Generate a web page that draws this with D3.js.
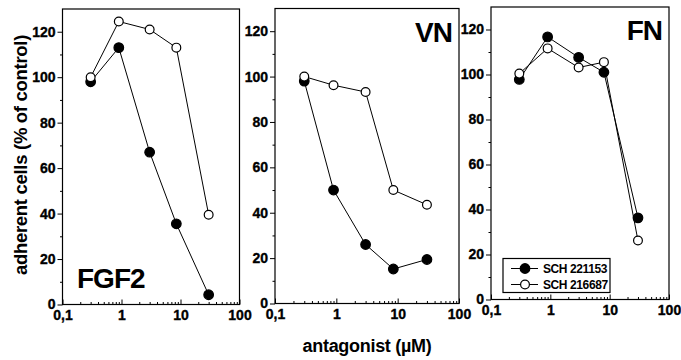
<!DOCTYPE html>
<html>
  <head>
    <meta charset="utf-8" />
    <style>
      body { margin: 0; background: #fff; }
      svg { display: block; font-family: "Liberation Sans", Arial, sans-serif; font-weight: bold; }
    </style>
  </head>
  <body>
    <div id="chart"></div>
    <script src="https://d3js.org/d3.v7.min.js"></script>
    <script>
    // data
    var panelNames = ["FGF2", "VN", "FN"];
    var seriesNames = ["SCH 221153", "SCH 216687"];
    var doseFGF2 = [0.3, 0.9, 3, 8.5, 30];
    var doseVN = [0.3, 0.9, 3, 8.5, 30];
    var doseFN = [0.3, 0.9, 3, 8, 30];
    var fgf2Filled = [98, 113, 67, 35.5, 4.3];
    var fgf2Open = [100, 124.5, 121, 113, 39.5];
    var vnFilled = [98, 50, 26, 15.2, 19.4];
    var vnOpen = [100, 96.2, 93.2, 50, 43.5];
    var fnFilled = [97.8, 116.7, 107.6, 101, 36.3];
    var fnOpen = [100.4, 111.6, 103.1, 105.5, 26.2];
    var xTicks = [0.1, 1, 10, 100];
    var yTicks = [0, 20, 40, 60, 80, 100, 120];

    var width = 681, height = 360;
    var tickFont = '"Liberation Sans Narrow", "Liberation Sans", Arial, sans-serif';

    // panel boxes (pixels)
    var boxes = [
      { l: 62.5, r: 239.5, t: 9, b: 304.5, labelAt: "bl" },
      { l: 275, r: 459, t: 8.5, b: 303.5, labelAt: "tr" },
      { l: 491, r: 669, t: 7, b: 299.5, labelAt: "tr" }
    ];
    var doses = [doseFGF2, doseVN, doseFN];
    var filled = [fgf2Filled, vnFilled, fnFilled];
    var open = [fgf2Open, vnOpen, fnOpen];

    var svg = d3.select('#chart')
      .append('svg')
      .attr('width', width)
      .attr('height', height);

    var minorX = [];
    [0.1, 1, 10].forEach(function(d) {
      for (var k = 2; k <= 9; k++) minorX.push(d * k);
    });
    var minorY = [10, 30, 50, 70, 90, 110];

    var fmt = function(d) { return String(d).replace('.', ','); };

    function styleAxis(a) {
      a.select('.domain').remove();
      a.attr('font-family', tickFont).attr('font-size', 14).attr('font-weight', 'bold');
      a.selectAll('text').attr('fill', '#000').attr('stroke', '#000').attr('stroke-width', 0.35);
    }

    boxes.forEach(function(b, i) {
      var x = d3.scaleLog().domain([0.1, 100]).range([b.l, b.r]);
      var y = d3.scaleLinear().domain([0, 130]).range([b.b, b.t]);
      var g = svg.append('g');

      // frame
      g.append('rect')
        .attr('x', b.l).attr('y', b.t)
        .attr('width', b.r - b.l).attr('height', b.b - b.t)
        .attr('fill', 'none').attr('stroke', '#000').attr('stroke-width', 1.2);

      // x axis: ticks point inward
      g.append('g')
        .attr('transform', 'translate(0,' + b.b + ')')
        .call(d3.axisBottom(x).tickValues(minorX).tickSize(-2.5).tickSizeOuter(0).tickFormat(''))
        .call(function(a) { a.select('.domain').remove(); });
      g.append('g')
        .attr('transform', 'translate(0,' + b.b + ')')
        .call(d3.axisBottom(x).tickValues(xTicks).tickSize(-5).tickSizeOuter(0).tickPadding(5.5).tickFormat(fmt))
        .call(styleAxis);

      // y axis: ticks point outward
      g.append('g')
        .attr('transform', 'translate(' + b.l + ',0)')
        .call(d3.axisLeft(y).tickValues(minorY).tickSize(2.5).tickSizeOuter(0).tickFormat(''))
        .call(function(a) { a.select('.domain').remove(); });
      g.append('g')
        .attr('transform', 'translate(' + b.l + ',0)')
        .call(d3.axisLeft(y).tickValues(yTicks).tickSize(5).tickSizeOuter(0).tickPadding(2))
        .call(styleAxis);

      var line = d3.line()
        .x(function(d) { return x(d[0]); })
        .y(function(d) { return y(d[1]); });

      [filled[i], open[i]].forEach(function(vals, s) {
        var pts = vals.map(function(v, j) { return [doses[i][j], v]; });
        g.append('path')
          .attr('d', line(pts))
          .attr('fill', 'none')
          .attr('stroke', '#000')
          .attr('stroke-width', 1);
        g.selectAll('circle.s' + s)
          .data(pts)
          .enter().append('circle')
          .attr('class', 's' + s)
          .attr('cx', function(d) { return x(d[0]); })
          .attr('cy', function(d) { return y(d[1]); })
          .attr('r', s === 0 ? 4.8 : 4.4)
          .attr('fill', s === 0 ? '#000' : '#fff')
          .attr('stroke', '#000')
          .attr('stroke-width', 1.2);
      });

      // panel name
      var t = g.append('text')
        .text(panelNames[i])
        .attr('font-size', '28px')
        .attr('letter-spacing', '-1px')
        .attr('fill', '#000');
      if (b.labelAt === 'bl') {
        t.attr('x', 77).attr('y', b.b - 17);
      } else {
        t.attr('x', b.r - 7).attr('y', b.t + 33).attr('text-anchor', 'end');
      }
    });

    // legend in FN panel
    var lg = svg.append('g').attr('transform', 'translate(503,258.5)');
    lg.append('rect')
      .attr('width', 107).attr('height', 34)
      .attr('fill', '#fff').attr('stroke', '#000').attr('stroke-width', 1.2);
    seriesNames.forEach(function(name, s) {
      var yy = 10 + s * 16;
      lg.append('line')
        .attr('x1', 8).attr('x2', 35).attr('y1', yy).attr('y2', yy)
        .attr('stroke', '#000').attr('stroke-width', 1);
      lg.append('circle')
        .attr('cx', 22).attr('cy', yy).attr('r', s === 0 ? 4.8 : 4.4)
        .attr('fill', s === 0 ? '#000' : '#fff')
        .attr('stroke', '#000').attr('stroke-width', 1.2);
      lg.append('text')
        .attr('x', 40).attr('y', yy + 4.5)
        .attr('font-size', '12px')
        .attr('letter-spacing', '-0.4px')
        .text(name);
    });

    // axis titles
    svg.append('text')
      .attr('transform', 'translate(27,155) rotate(-90)')
      .attr('text-anchor', 'middle')
      .attr('font-size', '18.5px')
      .attr('letter-spacing', '-0.3px')
      .text('adherent cells (% of control)');
    svg.append('text')
      .attr('x', 367).attr('y', 352)
      .attr('text-anchor', 'middle')
      .attr('font-size', '18px')
      .attr('letter-spacing', '-0.3px')
      .text('antagonist (\u00b5M)');
    </script>
  </body>
</html>
